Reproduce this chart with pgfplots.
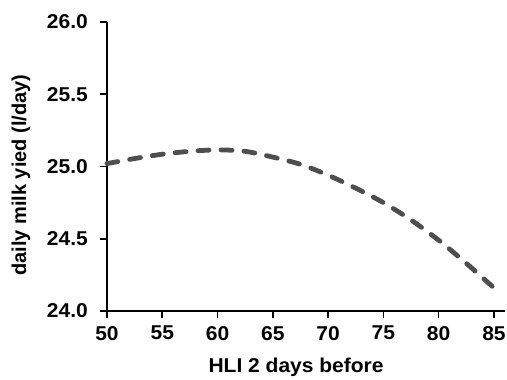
\documentclass[border=0pt]{standalone}
\usepackage{fontspec}
\setmainfont{Liberation Sans}[FakeStretch=1.05]
\newfontfamily\ylfont{Liberation Sans}
\usepackage{pgfplots}
\pgfplotsset{compat=1.18}
\definecolor{curve}{RGB}{78,78,78}
\begin{document}
\begin{tikzpicture}
\useasboundingbox (-107pt,-69pt) rectangle (400pt,311pt);
\begin{axis}[
  at={(0pt,0pt)}, anchor=south west,
  scale only axis,
  width=398pt, height=289pt,
  xmin=50, xmax=86, ymin=24, ymax=26,
  xtick={50,55,...,85}, ytick={24,24.5,...,26},
  axis x line*=bottom, axis y line*=left,
  every outer x axis line/.append style={-},
  every outer y axis line/.append style={-},
  axis line style={line width=1.6pt, black},
  tick style={line width=1.6pt, black},
  tick align=outside, major tick length=7pt,
  /pgf/number format/assume math mode=true,
  yticklabel style={/pgf/number format/fixed, /pgf/number format/fixed zerofill, /pgf/number format/precision=1},
  ticklabel style={font=\fontsize{20}{23}\selectfont\bfseries},
  yticklabel style={inner sep=0pt, xshift=-12pt},
  xticklabel style={inner sep=0pt, yshift=-8pt},
  xlabel={HLI 2 days before},
  ylabel={\ylfont daily milk yied (l/day)},
  label style={font=\fontsize{20}{23}\selectfont\bfseries},
  xlabel style={at={(axis description cs:0.475,-0.194)}, anchor=center},
  ylabel style={at={(axis description cs:-0.216,0.47)}, anchor=center},
  clip=false,
]
\addplot[curve, line width=4.8pt, line cap=round, dash pattern=on 11pt off 12pt, smooth, tension=0.5]
coordinates {
(50,25.02) (52.5,25.055) (55,25.085) (57.5,25.105) (60,25.115) (62.5,25.105)
(65,25.065) (67.5,25.015) (70,24.94) (72.5,24.85) (75,24.75) (77.5,24.63)
(80,24.49) (82.5,24.33) (85,24.16)
};
\end{axis}
\end{tikzpicture}
\end{document}
